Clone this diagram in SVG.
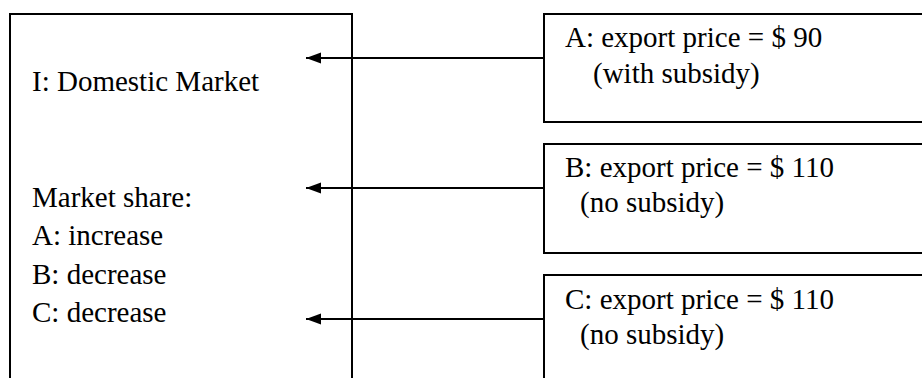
<svg xmlns="http://www.w3.org/2000/svg" width="922" height="378" viewBox="0 0 922 378">
<defs>
<marker id="ah" markerUnits="userSpaceOnUse" markerWidth="16" markerHeight="12" refX="15" refY="5.5" orient="auto">
<path d="M0,0 L15,5.5 L0,11 Z" fill="#000"/>
</marker>
<style>
.box{fill:none;stroke:#000;stroke-width:2}
.t{font-family:"Liberation Serif","Times New Roman",serif;font-size:29px;fill:#000}
.c{stroke:#000;stroke-width:2;fill:none}
</style>
</defs>
<rect width="922" height="378" fill="#fff"/>
<g id="domestic">
<rect class="box" x="10" y="14" width="342" height="400"/>
<text class="t" x="32" y="91">I: Domestic Market</text>
<text class="t" x="32" y="207">Market share:</text>
<text class="t" x="32" y="245">A: increase</text>
<text class="t" x="32" y="284">B: decrease</text>
<text class="t" x="32" y="322">C: decrease</text>
</g>
<g id="exportA">
<rect class="box" x="544" y="14" width="400" height="108"/>
<text class="t" x="565" y="47">A: export price = $ 90</text>
<text class="t" x="593" y="83">(with subsidy)</text>
</g>
<g id="exportB">
<rect class="box" x="544" y="144" width="400" height="109"/>
<text class="t" x="565" y="177">B: export price = $ 110</text>
<text class="t" x="580" y="212">(no subsidy)</text>
</g>
<g id="exportC">
<rect class="box" x="544" y="275" width="400" height="140"/>
<text class="t" x="565" y="309">C: export price = $ 110</text>
<text class="t" x="580" y="344">(no subsidy)</text>
</g>
<g id="connectors">
<path class="c" d="M544,58 L306,58" marker-end="url(#ah)"/>
<path class="c" d="M544,188 L306,188" marker-end="url(#ah)"/>
<path class="c" d="M544,319 L306,319" marker-end="url(#ah)"/>
</g>
</svg>
